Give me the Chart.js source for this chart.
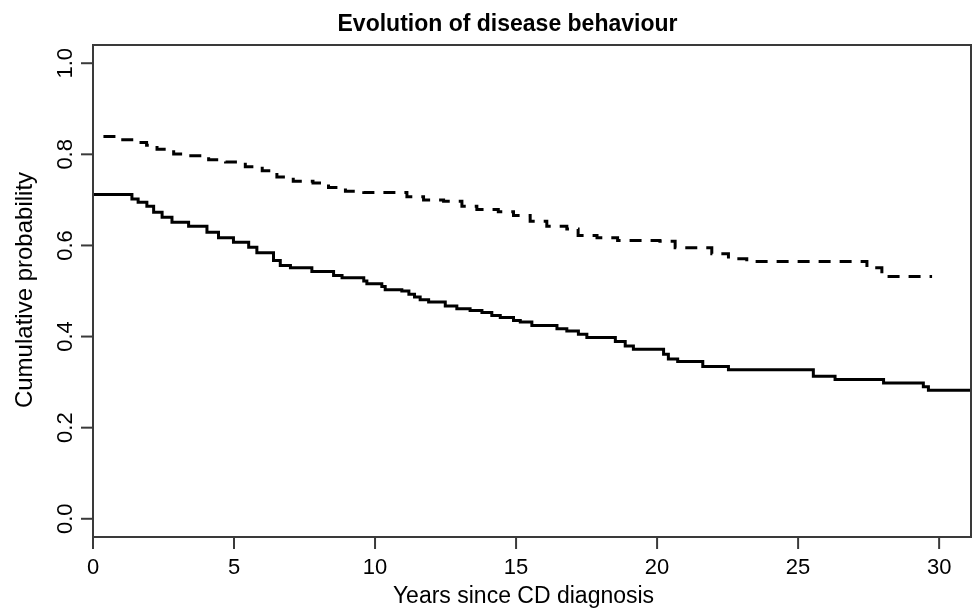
<!DOCTYPE html>
<html>
<head>
<meta charset="utf-8">
<script src="https://cdn.jsdelivr.net/npm/chart.js@4.4.1/dist/chart.umd.min.js"></script>
<style>
  html, body { margin: 0; padding: 0; background: #ffffff; }
  #wrap { width: 972px; height: 611px; position: relative; }
</style>
</head>
<body>
<div id="wrap"><canvas id="c" width="972" height="611"></canvas></div>
<script>
// ---- Data (Kaplan-Meier style step curves) ----
const chartTitle = 'Evolution of disease behaviour';
const xAxisTitle = 'Years since CD diagnosis';
const yAxisTitle = 'Cumulative probability';

const xTickValues = [0, 5, 10, 15, 20, 25, 30];
const xTickLabels = ['0', '5', '10', '15', '20', '25', '30'];
const yTickValues = [0, 0.2, 0.4, 0.6, 0.8, 1.0];
const yTickLabels = ['0.0', '0.2', '0.4', '0.6', '0.8', '1.0'];

// Solid curve
const solidTimes = [0, 1.38, 1.6, 1.91, 2.15, 2.45, 2.8, 3.39, 4.04, 4.45, 4.98, 5.52, 5.81, 6.40, 6.64, 7.0, 7.76,
  8.53, 8.83, 9.6, 9.71, 10.24, 10.36, 10.95, 11.2, 11.4, 11.6, 11.9, 12.49, 12.9, 13.37, 13.79, 14.14, 14.44,
  14.91, 15.15, 15.56, 16.45, 16.8, 17.21, 17.51, 18.52, 18.87, 19.16, 20.23, 20.40, 20.73, 21.62, 22.53,
  25.54, 26.31, 28.03, 29.44, 29.62, 31.13];
const solidValues = [0.712, 0.702, 0.695, 0.686, 0.673, 0.662, 0.651, 0.642, 0.629, 0.617, 0.607, 0.596, 0.584,
  0.567, 0.556, 0.551, 0.543, 0.534, 0.529, 0.522, 0.516, 0.510, 0.503, 0.500, 0.493, 0.487, 0.481, 0.476,
  0.467, 0.461, 0.457, 0.453, 0.446, 0.442, 0.435, 0.432, 0.424, 0.417, 0.412, 0.405, 0.398, 0.389, 0.379,
  0.372, 0.361, 0.351, 0.345, 0.334, 0.327, 0.313, 0.306, 0.298, 0.290, 0.282, 0.282];

// Dashed curve
const dashedTimes = [0.37, 1.0, 1.6, 1.9, 2.27, 2.86, 3.4, 4.1, 4.7, 5.4, 6.0, 6.52, 7.1, 7.8, 8.35, 8.95, 9.6,
  11.13, 11.72, 12.43, 13.08, 13.61, 14.37, 14.91, 15.5, 16.09, 16.8, 17.2, 17.87, 18.6, 20.1, 20.64, 21.94,
  22.53, 23.18, 27.44, 27.97, 29.75];
const dashedValues = [0.839, 0.832, 0.826, 0.820, 0.811, 0.801, 0.797, 0.788, 0.783, 0.773, 0.764, 0.750, 0.741,
  0.737, 0.727, 0.719, 0.716, 0.707, 0.700, 0.697, 0.686, 0.679, 0.674, 0.666, 0.653, 0.642, 0.636, 0.622,
  0.617, 0.611, 0.609, 0.595, 0.582, 0.571, 0.565, 0.551, 0.532, 0.532];

const xMin = 0, xMax = 31.13;
const yMin = -0.04, yMax = 1.04;

const toPoints = (ts, vs) => ts.map((t, i) => ({ x: t, y: vs[i] }));

const FONT = '"Liberation Sans", Arial, Helvetica, sans-serif';
const FRAME = '#3a3a3a';

const framePlugin = {
  id: 'rframe',
  afterDraw(chart) {
    const { ctx, chartArea: a, scales } = chart;
    const xs = scales.x, ys = scales.y;
    ctx.save();
    // plot box
    ctx.strokeStyle = FRAME;
    ctx.lineWidth = 2;
    ctx.strokeRect(a.left, a.top, a.right - a.left, a.bottom - a.top);
    // x ticks + labels
    ctx.fillStyle = '#000';
    ctx.font = '22px ' + FONT;
    ctx.textAlign = 'center';
    ctx.textBaseline = 'alphabetic';
    xTickValues.forEach((v, i) => {
      const px = xs.getPixelForValue(v);
      ctx.beginPath();
      ctx.moveTo(px, a.bottom);
      ctx.lineTo(px, a.bottom + 12);
      ctx.stroke();
      ctx.fillText(xTickLabels[i], px, 574);
    });
    // y ticks + rotated labels
    yTickValues.forEach((v, i) => {
      const py = ys.getPixelForValue(v);
      ctx.beginPath();
      ctx.moveTo(a.left - 12, py);
      ctx.lineTo(a.left, py);
      ctx.stroke();
      ctx.save();
      ctx.translate(72, py);
      ctx.rotate(-Math.PI / 2);
      ctx.fillText(yTickLabels[i], 0, 0);
      ctx.restore();
    });
    // axis titles
    ctx.font = '23px ' + FONT;
    ctx.fillText(xAxisTitle, 523.5, 603);
    ctx.save();
    ctx.font = '24px ' + FONT;
    ctx.translate(32, 290);
    ctx.rotate(-Math.PI / 2);
    ctx.fillText(yAxisTitle, 0, 0);
    ctx.restore();
    // main title
    ctx.font = 'bold 23px ' + FONT;
    ctx.fillText(chartTitle, 507.5, 31);
    ctx.restore();
  }
};

new Chart(document.getElementById('c'), {
  type: 'line',
  data: {
    datasets: [
      {
        label: 'Solid',
        data: toPoints(solidTimes, solidValues),
        stepped: 'before',
        borderColor: '#000',
        borderWidth: 3,
        pointRadius: 0,
        fill: false
      },
      {
        label: 'Dashed',
        data: toPoints(dashedTimes, dashedValues),
        stepped: 'before',
        borderColor: '#000',
        borderWidth: 3,
        borderDash: [12, 9],
        pointRadius: 0,
        fill: false
      }
    ]
  },
  options: {
    responsive: false,
    animation: false,
    events: [],
    layout: { padding: { left: 93, right: 1, top: 45, bottom: 74 } },
    scales: {
      x: { type: 'linear', min: xMin, max: xMax, display: false },
      y: { type: 'linear', min: yMin, max: yMax, display: false }
    },
    plugins: {
      legend: { display: false },
      tooltip: { enabled: false },
      title: { display: false }
    }
  },
  plugins: [framePlugin]
});
</script>
</body>
</html>
